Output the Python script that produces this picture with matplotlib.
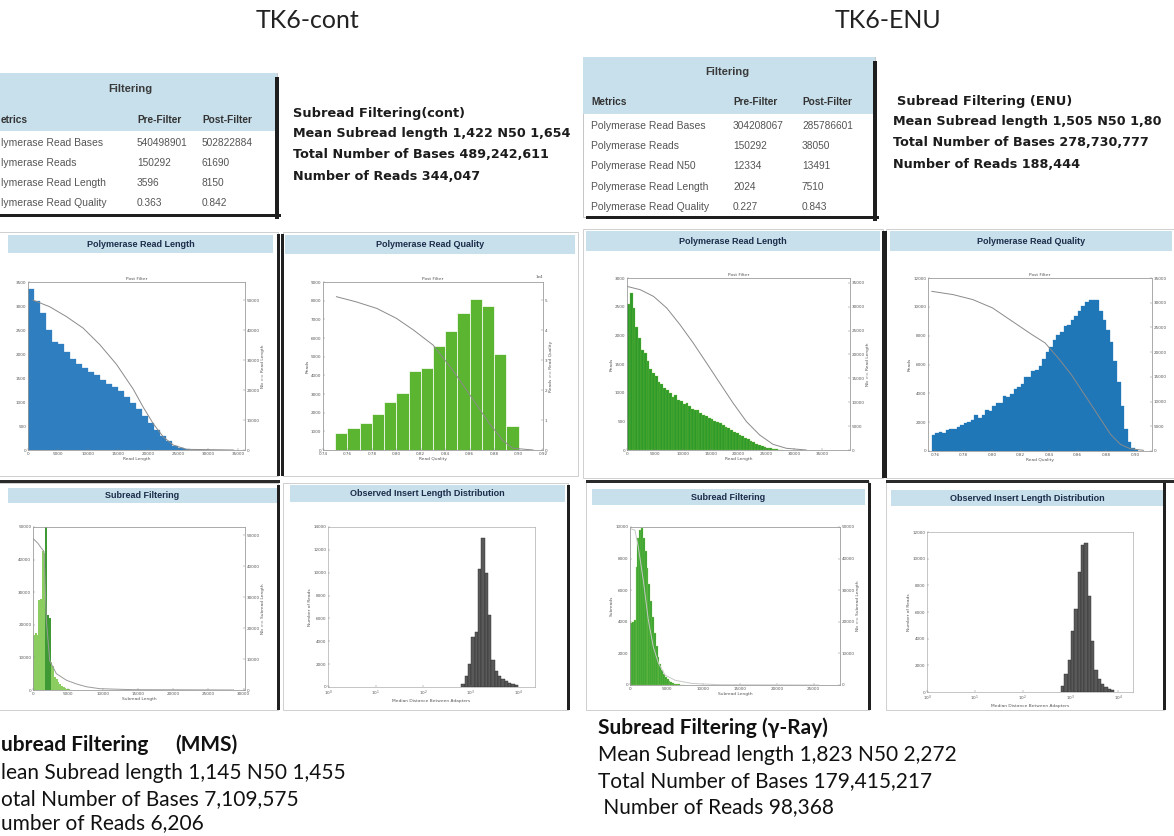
import numpy as np
import matplotlib.pyplot as plt
from matplotlib.patches import Rectangle

W, H = 1174, 836

headers = ['TK6-cont', 'TK6-ENU']

# summary tables (left one is cut at the page edge, as in the source)
table_cols_cont = ['etrics', 'Pre-Filter', 'Post-Filter']
table_cols_enu = ['Metrics', 'Pre-Filter', 'Post-Filter']
cont_metrics = ['lymerase Read Bases', 'lymerase Reads', 'lymerase Read Length', 'lymerase Read Quality']
cont_pre = ['540498901', '150292', '3596', '0.363']
cont_post = ['502822884', '61690', '8150', '0.842']
enu_metrics = ['Polymerase Read Bases', 'Polymerase Reads', 'Polymerase Read N50',
               'Polymerase Read Length', 'Polymerase Read Quality']
enu_pre = ['304208067', '150292', '12334', '2024', '0.227']
enu_post = ['285786601', '38050', '13491', '7510', '0.843']

cont_notes = ['Subread Filtering(cont)', 'Mean Subread length 1,422 N50 1,654',
              'Total Number of Bases 489,242,611', 'Number of Reads 344,047']
enu_notes = ['Subread Filtering (ENU)', 'Mean Subread length 1,505 N50 1,80',
             'Total Number of Bases 278,730,777', 'Number of Reads 188,444']
mms_notes = ['ubread Filtering', '(MMS)', 'lean Subread length 1,145 N50 1,455',
             'otal Number of Bases 7,109,575', 'umber of Reads 6,206']
gamma_notes = ['Subread Filtering (\u03b3-Ray)', 'Mean Subread length 1,823 N50 2,272',
               'Total Number of Bases 179,415,217', ' Number of Reads 98,368']

panel_titles = ['Polymerase Read Length', 'Polymerase Read Quality', 'Polymerase Read Length',
                'Polymerase Read Quality', 'Subread Filtering', 'Observed Insert Length Distribution',
                'Subread Filtering', 'Observed Insert Length Distribution']

# panel 1: TK6-cont read length (bin 1000)
rl_cont_bin = 1000
rl_cont_counts = [3360, 3100, 2850, 2500, 2250, 2200, 2050, 1900, 1800, 1700, 1620, 1560, 1450, 1380,
                  1320, 1220, 1100, 980, 850, 700, 560, 420, 300, 180, 90, 40, 20, 10]
rl_cont_curve_x = [833, 3600, 6390, 9170, 11940, 14720, 17500, 19170, 20830, 22500, 24170, 26400, 34170]
rl_cont_curve_y = [49960, 47760, 44470, 40630, 35140, 28550, 20310, 14270, 8780, 4390, 1650, 220, 0]

# panel 2: TK6-cont read quality (bin 0.01 from 0.75)
q_cont_start, q_cont_bin = 0.75, 0.01
q_cont_counts = [890, 1160, 1430, 1910, 2550, 3030, 4240, 4400, 5580, 6360, 7340, 8110, 7740, 5130, 1300]
q_cont_curve_x = [0.751, 0.767, 0.784, 0.800, 0.814, 0.830, 0.846, 0.863, 0.876, 0.887, 0.895, 0.912]
q_cont_curve_y = [51100, 49400, 47200, 43900, 40000, 35000, 26700, 16700, 8900, 3300, 600, 0]

# panel 3: TK6-ENU read length (bin 500)
rl_enu_bin = 500
rl_enu_counts = [2550, 2730, 2480, 2150, 1950, 1740, 1700, 1560, 1420, 1350, 1290, 1180, 1150, 1090,
                 1050, 1000, 930, 960, 870, 850, 800, 820, 760, 720, 700, 690, 640, 610, 590, 560,
                 540, 510, 480, 470, 430, 400, 380, 350, 320, 300, 270, 240, 210, 190, 160, 140,
                 110, 90, 70, 55, 40, 30, 20, 12, 8, 5]
rl_enu_curve_x = [0, 2380, 4760, 7140, 9520, 11900, 14290, 16670, 19050, 21430, 23810, 26190, 28570, 32140]
rl_enu_curve_y = [34240, 33550, 32150, 29700, 26210, 22360, 18180, 13970, 9790, 5940, 3130, 1190, 360, 0]

# panel 4: TK6-ENU read quality (bin 0.0025 from 0.7575)
q_enu_start, q_enu_bin = 0.7575, 0.0025
q_enu_counts = [1080, 1260, 1320, 1230, 1440, 1500, 1560, 1680, 1800, 1920, 2040, 2160, 2500, 2280,
                2520, 2820, 2760, 3120, 3360, 3300, 3840, 3720, 3960, 4320, 4440, 4680, 5160, 5160,
                5520, 5640, 5880, 6360, 6840, 7200, 7680, 8040, 8280, 8640, 8760, 9120, 9360, 9720,
                10080, 10320, 10440, 10500, 10440, 9720, 9120, 8400, 7560, 6240, 4800, 3120, 1560,
                600, 180, 60]
q_enu_curve_x = [0.7577, 0.7726, 0.7864, 0.8002, 0.8140, 0.8278, 0.8370, 0.8462, 0.8554, 0.8646,
                 0.8738, 0.8830, 0.8899, 0.8968, 0.9060]
q_enu_curve_y = [32300, 31640, 30630, 28950, 26250, 23560, 21880, 18830, 15470, 11450, 7420, 3360,
                 1330, 460, 140]

# panel 5: MMS subread length (bin 250)
sr_mms_bin = 250
sr_mms_counts = [17000, 17500, 17000, 27500, 28000, 42500, 42000, 50000, 23000, 22000, 8500, 7500,
                 4000, 3500, 2500, 1750, 1250, 900, 600, 400, 250, 150]
sr_mms_curve_x = [0, 714, 1190, 1570, 1900, 2380, 3330, 4760, 6190, 7620, 9520, 14290, 28570]
sr_mms_curve_y = [49000, 47400, 45850, 44800, 22660, 9490, 5270, 3160, 1950, 1050, 420, 105, 0]

# panel 6: cont insert length (log10 bins of 0.07 from 2.80)
ins_cont_start, ins_cont_step = 2.80, 0.07
ins_cont_counts = [300, 1000, 2000, 4400, 4800, 10300, 13000, 10000, 6300, 2400, 1400, 950, 700,
                   500, 350, 250, 150]

# panel 7: gamma subread length (bin 250)
sr_gam_bin = 250
sr_gam_counts = [3900, 4000, 4100, 7500, 9300, 9800, 9950, 9300, 8500, 7400, 6400, 5300, 4300, 3300,
                 2500, 1800, 1300, 950, 700, 500, 350, 250, 180, 120, 80, 60, 40, 30, 20, 10]
sr_gam_curve_x = [0, 680, 1140, 1820, 2500, 3180, 3860, 4770, 6140, 8410, 12040, 25680]
sr_gam_curve_y = [49500, 49000, 43500, 33000, 20500, 12000, 7000, 3150, 1500, 500, 100, 0]

# panel 8: ENU insert length (log10 bins of 0.07 from 2.80)
ins_enu_start, ins_enu_step = 2.80, 0.07
ins_enu_counts = [480, 1320, 2400, 4560, 6240, 9000, 11040, 11160, 7200, 3840, 1680, 960, 600, 360,
                  240, 120]

fig = plt.figure(figsize=(W / 100, H / 100), dpi=100)
fig.patch.set_facecolor('white')


def box(x, y, w, h, **kw):
    fig.patches.append(Rectangle((x / W, 1 - (y + h) / H), w / W, h / H,
                                 transform=fig.transFigure, **kw))


def put(x, y, s, **kw):
    kw.setdefault('va', 'center')
    fig.text(x / W, 1 - y / H, s, **kw)


def place(x, y, w, h):
    return fig.add_axes([x / W, 1 - (y + h) / H, w / W, h / H])


def style(ax):
    ax.tick_params(labelsize=3, length=1.5, width=0.3, direction='in', pad=1.2,
                   colors='#777', labelcolor='#555')
    for sp in ax.spines.values():
        sp.set_linewidth(0.4)
        sp.set_color('#999')


def labels(ax, xl, yl=None, title=None):
    ax.set_xlabel(xl, fontsize=3.2, color='#555', labelpad=1)
    if yl:
        ax.set_ylabel(yl, fontsize=3.2, color='#555', labelpad=1)
    if title:
        ax.set_title(title, fontsize=3.2, color='#555', pad=1.5)


def twin_curve(ax, xs, ys, top, ylab, color='#8a8a8a'):
    ax2 = ax.twinx()
    ax2.plot(xs, ys, color=color, lw=0.7)
    ax2.set_ylim(0, top)
    style(ax2)
    ax2.set_ylabel(ylab, fontsize=3.2, color='#555', labelpad=1)
    return ax2


# headers
put(308, 20, headers[0], ha='center', fontsize=18, family=['Lato', 'DejaVu Sans'], color='#222')
put(888, 20, headers[1], ha='center', fontsize=18, family=['Lato', 'DejaVu Sans'], color='#222')

# tables
tfont = ['Liberation Sans', 'DejaVu Sans']


def table(x0, y0, w, h, hh, title_xy, head_y, col_x, rows_y, cols, metrics, pre, post):
    box(x0, y0, w, h, facecolor='white', edgecolor='#bbb', lw=0.6, zorder=1)
    box(x0, y0, w, hh, facecolor='#c7e0ec', edgecolor='none', zorder=1)
    box(x0 + w - 2, y0 + 4, 4, h, facecolor='#1e1e1e', edgecolor='none', zorder=1)
    box(x0 + 3, y0 + h - 1, w + 1, 3, facecolor='#1e1e1e', edgecolor='none', zorder=1)
    put(title_xy[0], title_xy[1], 'Filtering', ha='center', fontsize=8, fontweight='bold',
        family=tfont, color='#3a3a3a')
    for cx, c in zip(col_x, cols):
        put(cx, head_y, c, fontsize=7.3, fontweight='bold', family=tfont, color='#333')
    for ry, m, a, b in zip(rows_y, metrics, pre, post):
        put(col_x[0], ry, m, fontsize=7.5, family=tfont, color='#555')
        put(col_x[1], ry, a, fontsize=7.3, family=tfont, color='#555')
        put(col_x[2], ry, b, fontsize=7.3, family=tfont, color='#555')


table(-30, 73, 307, 142, 58, (130, 89), 120, [1, 137, 202], [143, 163, 183, 203],
      table_cols_cont, cont_metrics, cont_pre, cont_post)
table(583, 57, 292, 160, 57, (727, 72), 102, [591, 733, 802], [126, 146, 166, 187, 207],
      table_cols_enu, enu_metrics, enu_pre, enu_post)

# side notes
nfont = ['DejaVu Sans']
for i, (s, y) in enumerate(zip(cont_notes, [113, 134, 155, 177])):
    put(293, y, s, fontsize=9.4 if i == 0 else 9.2, fontweight='bold', family=nfont, color='#1c1c1c')
for i, (s, y) in enumerate(zip(enu_notes, [101, 122, 143, 164])):
    put(897 if i == 0 else 893, y, s, fontsize=9.4 if i == 0 else 9.2, fontweight='bold',
        family=nfont, color='#1c1c1c')

# bottom notes
bfont = ['Lato', 'DejaVu Sans']
put(1, 745, mms_notes[0], fontsize=15, fontweight='bold', family=bfont, color='#111')
put(175, 745, mms_notes[1], fontsize=15, fontweight='bold', family=bfont, color='#111')
put(1, 773, mms_notes[2], fontsize=15, family=bfont, color='#111')
put(1, 799, mms_notes[3], fontsize=15, family=bfont, color='#111')
put(1, 823, mms_notes[4], fontsize=15, family=bfont, color='#111')
put(598, 728, gamma_notes[0], fontsize=15, fontweight='bold', family=bfont, color='#111')
put(598, 755, gamma_notes[1], fontsize=15, family=bfont, color='#111')
put(598, 781, gamma_notes[2], fontsize=15, family=bfont, color='#111')
put(598, 807, gamma_notes[3], fontsize=15, family=bfont, color='#111')

# panel frames: (frame box, title bar, shadow side)
frames = [((-2, 232, 280, 244), (8, 235, 265, 18), 'right'),
          ((283, 232, 295, 244), (285, 235, 290, 19), 'left'),
          ((583, 229, 300, 249), (586, 231, 294, 20), 'right'),
          ((886, 229, 290, 249), (890, 231, 282, 20), 'left'),
          ((-2, 483, 280, 227), (8, 488, 269, 15), 'right'),
          ((283, 483, 285, 227), (290, 485, 275, 17), 'right'),
          ((586, 481, 283, 229), (592, 489, 273, 16), 'right'),
          ((886, 481, 278, 229), (891, 490, 272, 16), 'right')]
for (fx, fy, fw, fh), (tx, ty, tw, th), side in frames:
    box(fx, fy, fw, fh, facecolor='white', edgecolor='#c8c8c8', lw=0.6, zorder=-5)
    box(tx, ty, tw, th, facecolor='#c7e0ec', edgecolor='none', zorder=-4)
    sx = fx + fw - 1 if side == 'right' else fx - 2
    box(sx, fy + 2, 3, fh - 2, facecolor='#202020', edgecolor='none', zorder=-4)
for fx, fw in [(0, 280), (586, 283), (886, 288)]:
    box(fx, 480, fw, 3, facecolor='#2a2a2a', edgecolor='none', zorder=-4)
for (_, (tx, ty, tw, th), _), t in zip(frames, panel_titles):
    put(tx + tw / 2, ty + th / 2, t, ha='center', fontsize=6.5, fontweight='bold',
        family=tfont, color='#1d2d4a')

# panel 1
ax = place(28, 282, 217, 168)
left = np.arange(len(rl_cont_counts)) * rl_cont_bin
ax.bar(left, rl_cont_counts, width=rl_cont_bin, align='edge', color='#2f7fc0',
       edgecolor='#2f7fc0', lw=0.2)
ax.set_xlim(0, 36100)
ax.set_ylim(0, 3500)
ax.set_xticks(range(0, 36000, 5000))
style(ax)
labels(ax, 'Read Length', None, 'Post Filter')
twin_curve(ax, rl_cont_curve_x, rl_cont_curve_y, 56000, 'Nb >= Read Length')

# panel 2
ax = place(323, 282, 220, 168)
left = q_cont_start + np.arange(len(q_cont_counts)) * q_cont_bin
ax.bar(left, q_cont_counts, width=q_cont_bin, align='edge', color='#5cb531',
       edgecolor='white', lw=0.5)
ax.set_xlim(0.74, 0.92)
ax.set_ylim(0, 9000)
ax.set_xticks(np.arange(0.74, 0.9201, 0.02))
style(ax)
labels(ax, 'Read Quality', 'Reads', 'Post Filter')
ax2 = twin_curve(ax, q_cont_curve_x, q_cont_curve_y, 56000, 'Reads >= Read Quality')
ax2.ticklabel_format(axis='y', style='sci', scilimits=(0, 0))
ax2.yaxis.get_offset_text().set_fontsize(3)

# panel 3
ax = place(627, 278, 223, 172)
left = np.arange(len(rl_enu_counts)) * rl_enu_bin
ax.bar(left, rl_enu_counts, width=rl_enu_bin, align='edge', color='#2f9a2c',
       edgecolor='#7cc23a', lw=0.2)
ax.set_xlim(0, 40000)
ax.set_ylim(0, 3000)
ax.set_xticks(range(0, 36000, 5000))
style(ax)
labels(ax, 'Read Length', 'Reads', 'Post Filter')
twin_curve(ax, rl_enu_curve_x, rl_enu_curve_y, 36000, 'Nb >= Read Length')

# panel 4
ax = place(928, 278, 224, 173)
left = q_enu_start + np.arange(len(q_enu_counts)) * q_enu_bin
ax.bar(left, q_enu_counts, width=q_enu_bin, align='edge', color='#1f77b8',
       edgecolor='#1f77b8', lw=0.2)
ax.set_xlim(0.755, 0.912)
ax.set_ylim(0, 12000)
ax.set_xticks(np.arange(0.76, 0.9001, 0.02))
style(ax)
labels(ax, 'Read Quality', 'Reads', 'Post Filter')
ax2 = twin_curve(ax, q_enu_curve_x, q_enu_curve_y, 35000, '')
ax2.set_yticks(range(0, 35001, 5000))

# panel 5
ax = place(33, 527, 212, 163)
left = np.arange(len(sr_mms_counts)) * sr_mms_bin
cols = ['#3f9a36' if 1750 <= e < 2500 else '#8ccd62' for e in left]
ax.bar(left, sr_mms_counts, width=sr_mms_bin, align='edge', color=cols, edgecolor='none')
ax.set_xlim(0, 30200)
ax.set_ylim(0, 50000)
ax.set_xticks(range(0, 30001, 5000))
style(ax)
labels(ax, 'Subread Length')
twin_curve(ax, sr_mms_curve_x, sr_mms_curve_y, 52700, 'Nb >= Subread Length', color='#9a9a9a')

# panel 6
ax = place(328, 527, 207, 160)
edges = 10 ** (ins_cont_start + np.arange(len(ins_cont_counts) + 1) * ins_cont_step)
ax.bar(edges[:-1], ins_cont_counts, width=np.diff(edges), align='edge', color='#595959',
       edgecolor='#2b2b2b', lw=0.3)
ax.set_xscale('log')
ax.set_xlim(1, 10 ** 4.35)
ax.set_ylim(0, 14000)
style(ax)
ax.tick_params(which='minor', length=0)
labels(ax, 'Median Distance Between Adapters', 'Number of Reads')

# panel 7
ax = place(630, 527, 210, 158)
left = np.arange(len(sr_gam_counts)) * sr_gam_bin
ax.bar(left, sr_gam_counts, width=sr_gam_bin, align='edge', color='#35a02f',
       edgecolor='#9ad35a', lw=0.2)
ax.set_xlim(0, 28600)
ax.set_ylim(0, 10000)
ax.set_xticks(range(0, 25001, 5000))
style(ax)
labels(ax, 'Subread Length', 'Subreads')
twin_curve(ax, sr_gam_curve_x, sr_gam_curve_y, 50000, 'Nb >= Subread Length', color='#c8c8c8')

# panel 8
ax = place(927, 532, 206, 160)
edges = 10 ** (ins_enu_start + np.arange(len(ins_enu_counts) + 1) * ins_enu_step)
ax.bar(edges[:-1], ins_enu_counts, width=np.diff(edges), align='edge', color='#595959',
       edgecolor='#2b2b2b', lw=0.3)
ax.set_xscale('log')
ax.set_xlim(1, 10 ** 4.31)
ax.set_ylim(0, 12000)
style(ax)
ax.tick_params(which='minor', length=0)
labels(ax, 'Median Distance Between Adapters', 'Number of Reads')

fig.savefig('out.png', dpi=100, facecolor='white')
